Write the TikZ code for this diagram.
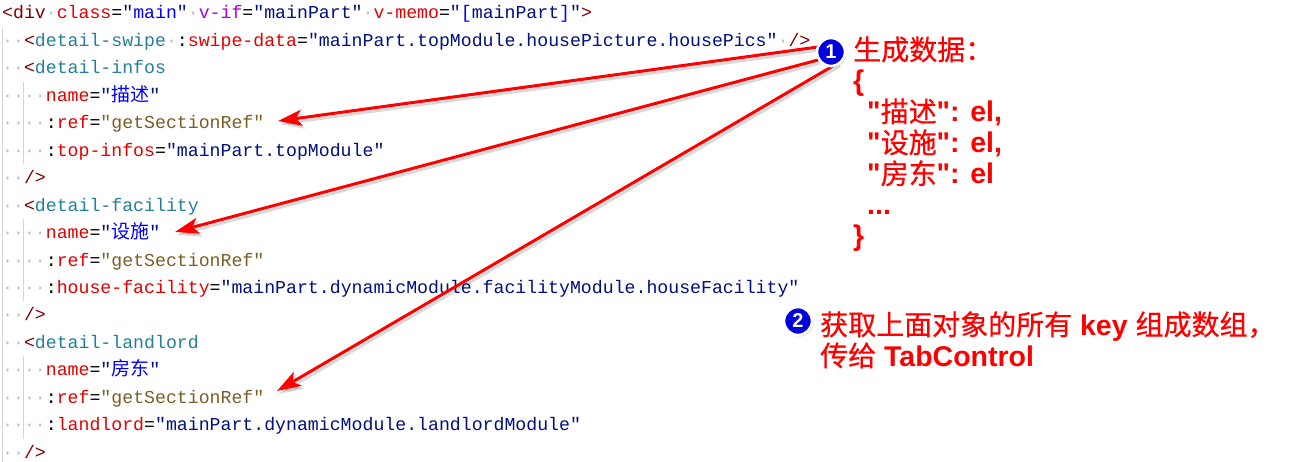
\documentclass[tikz,border=0pt]{standalone}
\usepackage{fontspec}
\setmainfont{Liberation Sans}[Ligatures=TeXOff]
\newfontfamily\kcode{Liberation Mono}
\newfontfamily\kcjk{Noto Sans CJK SC}
\newfontfamily\kcjkl{Noto Sans CJK SC}[FakeBold=0.6]
\usetikzlibrary{arrows.meta,shadows}
\definecolor{ctag}{HTML}{800000}
\definecolor{cname}{HTML}{267F99}
\definecolor{cattr}{HTML}{E50000}
\definecolor{cstr}{HTML}{001080}
\definecolor{cvif}{HTML}{AF00DB}
\definecolor{cblu}{HTML}{0000FF}
\definecolor{cfn}{HTML}{795E26}
\definecolor{cws}{HTML}{C0C0C0}
\definecolor{cguide}{HTML}{D4D4D4}
\definecolor{arrred}{HTML}{FF0000}
\definecolor{badgeblue}{HTML}{0000DD}
\newcommand\ktag[1]{\textcolor{ctag}{#1}}
\newcommand\kname[1]{\textcolor{cname}{#1}}
\newcommand\kattr[1]{\textcolor{cattr}{#1}}
\newcommand\kstr[1]{\textcolor{cstr}{#1}}
\newcommand\kvif[1]{\textcolor{cvif}{#1}}
\newcommand\kblu[1]{\textcolor{cblu}{#1}}
\newcommand\kfn[1]{\textcolor{cfn}{#1}}
\newcommand\kws{\textcolor{cws}{·}}
\newcommand\kzh[1]{\textcolor{cblu}{{\kcjk\fontsize{19}{20}\selectfont #1}}}
\newcommand\lzh[1]{{\kcjkl\mdseries\fontsize{28}{31}\selectfont #1}}
\begin{document}
\begin{tikzpicture}[x=1pt,y=-1pt,
  codeline/.style={anchor=base west, inner sep=0pt, font=\kcode\fontsize{18.2}{20}\selectfont},
  guide/.style={draw=cguide, line width=1pt},
  lbl/.style={anchor=base west, inner sep=0pt, text=arrred, font=\bfseries\fontsize{28.5}{31}\selectfont},
  badge/.style={circle, fill=badgeblue, draw=white, line width=2.6pt, minimum size=28pt, inner sep=0pt,
    text=white, font=\bfseries\fontsize{20}{20}\selectfont,
    drop shadow={shadow xshift=1.5pt, shadow yshift=-1.5pt, opacity=0.35}},
  arr/.style={draw=arrred, line width=3pt, -{Stealth[length=24pt,width=16pt,inset=6pt]}},
  arrshadow/.style={draw=black, opacity=0.15, line width=3pt, -{Stealth[length=24pt,width=16pt,inset=6pt]},
    transform canvas={xshift=2pt,yshift=-3pt}}
]
\fill[white] (0,0) rectangle (1303,462);
\useasboundingbox (0,0) rectangle (1303,462);

% indent guides
\draw[guide] (2,27) -- (2,462);
\draw[guide] (23.8,82) -- (23.8,164);
\draw[guide] (23.8,219) -- (23.8,301);
\draw[guide] (23.8,356) -- (23.8,439);

% code lines
\node[codeline] (l1) at (2,19) {\ktag{<div}\kws\kattr{class}=\kstr{"}\kblu{main}\kstr{"}\kws\kvif{v-if}=\kstr{"mainPart"}\kws\kattr{v-memo}=\kstr{"}\kblu{[}\kstr{mainPart}\kblu{]}\kstr{"}\ktag{>}};
\node[codeline] (l2) at (2,46.45) {\kws\kws\ktag{<}\kname{detail-swipe}\kws:\kattr{swipe-data}=\kstr{"mainPart.topModule.housePicture.housePics"}\kws\ktag{/>}};
\node[codeline] (l3) at (2,73.9) {\kws\kws\ktag{<}\kname{detail-infos}};
\node[codeline] (l4) at (2,101.35) {\kws\kws\kws\kws\kattr{name}=\kstr{"}\kzh{描述}\kstr{"}};
\node[codeline] (l5) at (2,128.8) {\kws\kws\kws\kws:\kattr{ref}=\kfn{"getSectionRef"}};
\node[codeline] (l6) at (2,156.25) {\kws\kws\kws\kws:\kattr{top-infos}=\kstr{"mainPart.topModule"}};
\node[codeline] (l7) at (2,183.7) {\kws\kws\ktag{/>}};
\node[codeline] (l8) at (2,211.15) {\kws\kws\ktag{<}\kname{detail-facility}};
\node[codeline] (l9) at (2,238.6) {\kws\kws\kws\kws\kattr{name}=\kstr{"}\kzh{设施}\kstr{"}};
\node[codeline] (l10) at (2,266.05) {\kws\kws\kws\kws:\kattr{ref}=\kfn{"getSectionRef"}};
\node[codeline] (l11) at (2,293.5) {\kws\kws\kws\kws:\kattr{house-facility}=\kstr{"mainPart.dynamicModule.facilityModule.houseFacility"}};
\node[codeline] (l12) at (2,320.95) {\kws\kws\ktag{/>}};
\node[codeline] (l13) at (2,348.4) {\kws\kws\ktag{<}\kname{detail-landlord}};
\node[codeline] (l14) at (2,375.85) {\kws\kws\kws\kws\kattr{name}=\kstr{"}\kzh{房东}\kstr{"}};
\node[codeline] (l15) at (2,403.3) {\kws\kws\kws\kws:\kattr{ref}=\kfn{"getSectionRef"}};
\node[codeline] (l16) at (2,430.75) {\kws\kws\kws\kws:\kattr{landlord}=\kstr{"mainPart.dynamicModule.landlordModule"}};
\node[codeline] (l17) at (2,458.2) {\kws\kws\ktag{/>}};

% positions
\coordinate (b1c) at (831,52);
\coordinate (t1) at (278,121);
\coordinate (t2) at (175,232);
\coordinate (t3) at (277,391);
\coordinate (s1) at (818,47);
\coordinate (s2) at (818,60);
\coordinate (s3) at (838,63);

% arrows
\draw[arrshadow] (s1) -- (t1);
\draw[arrshadow] (s2) -- (t2);
\draw[arrshadow] (s3) -- (t3);
\draw[arr] (s1) -- (t1);
\draw[arr] (s2) -- (t2);
\draw[arr] (s3) -- (t3);

\node[badge] (b1) at (b1c) {1};
\node[badge] (b2) at (798,321) {2};

% label 1
\node[lbl] (a1) at (853,60) {\lzh{生成数据：}};
\node[lbl] (a2) at (853,91) {\{};
\node[lbl] (a3) at (867,122) {"\lzh{描述}": el,};
\node[lbl] (a4) at (867,153) {"\lzh{设施}": el,};
\node[lbl] (a5) at (867,184) {"\lzh{房东}": el};
\node[lbl] (a6) at (867,215) {...};
\node[lbl] (a7) at (853,246) {\}};

% label 2
\node[lbl] (c1) at (820,335) {\lzh{获取上面对象的所有} key \lzh{组成数组，}};
\node[lbl] (c2) at (820,366) {\lzh{传给} TabControl};
\end{tikzpicture}
\end{document}
